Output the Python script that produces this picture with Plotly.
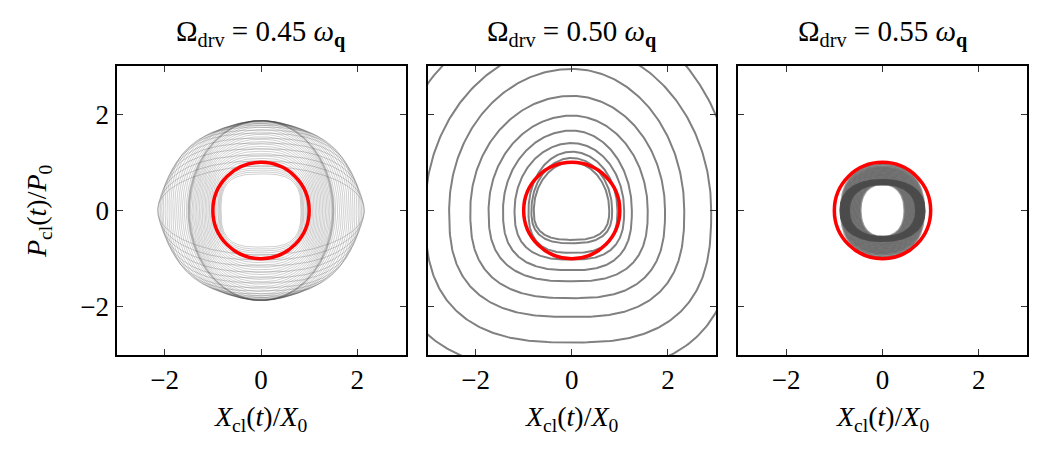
import numpy as np
import plotly.graph_objects as go

# ---------------- data ----------------
drive_ratios = ["0.45", "0.50", "0.55"]
tick_vals = [-2, 0, 2]
tick_text = ["\u22122", "0", "2"]

# panel 1: family of trajectory loops (semi-axes a, b and squareness p)
p1_a = [0.83, 0.85, 0.87, 0.89, 0.92, 0.95, 0.98, 1.01, 1.04, 1.07, 1.10, 1.13,
        1.16, 1.19, 1.22, 1.25, 1.28, 1.31, 1.34, 1.37, 1.40, 1.43, 1.46, 1.48,
        1.49, 1.50, 1.51, 1.52,
        1.55, 1.59, 1.63, 1.67, 1.71, 1.75, 1.79, 1.83, 1.87, 1.91, 1.95, 1.99,
        2.03, 2.06, 2.09, 2.12, 2.14, 2.15]
p1_b = [0.76, 0.80, 0.84, 0.88, 0.93, 0.98, 1.03, 1.08, 1.13, 1.18, 1.23, 1.28,
        1.33, 1.38, 1.43, 1.48, 1.53, 1.58, 1.63, 1.68, 1.73, 1.77, 1.81, 1.85,
        1.86, 1.87, 1.87, 1.87,
        1.87, 1.87, 1.86, 1.86, 1.85, 1.84, 1.82, 1.80, 1.77, 1.73, 1.67, 1.60,
        1.50, 1.40, 1.28, 1.15, 1.03, 0.92]
p1_p = [3.0, 2.95, 2.9, 2.85, 2.8, 2.75, 2.7, 2.65, 2.6, 2.55, 2.5, 2.45,
        2.4, 2.36, 2.32, 2.28, 2.24, 2.2, 2.16, 2.12, 2.08, 2.05, 2.02, 2.0,
        2.0, 2.0, 2.0, 2.02,
        2.05, 2.1, 2.15, 2.2, 2.25, 2.3, 2.4, 2.5, 2.6, 2.7, 2.7, 2.7,
        2.65, 2.6, 2.5, 2.4, 2.2, 2.0]

# panel 2: successive loops of the outward spiral (extent right, bottom, left, top)
p2_right = [0.78, 0.84, 0.95, 1.09, 1.25, 1.58, 1.94, 2.34, 2.90, 3.40]
p2_bottom = [0.61, 0.68, 0.88, 1.02, 1.24, 1.47, 1.82, 2.21, 2.74, 3.35]
p2_left = [0.79, 0.84, 0.90, 1.19, 1.43, 1.73, 2.11, 2.55, 3.05, 3.85]
p2_top = [1.00, 1.09, 1.22, 1.40, 1.66, 1.97, 2.38, 2.94, 3.45, 4.20]

# panel 3: light (tall) family and dark (wide) family
p3_light_a = [0.46, 0.48, 0.50, 0.52, 0.54, 0.56, 0.58, 0.60, 0.62, 0.64, 0.66,
              0.68, 0.70, 0.72, 0.74, 0.76, 0.78, 0.80, 0.82, 0.84, 0.86]
p3_light_b = [0.55, 0.57, 0.59, 0.61, 0.63, 0.65, 0.67, 0.69, 0.71, 0.73, 0.75,
              0.77, 0.79, 0.81, 0.83, 0.85, 0.87, 0.89, 0.91, 0.94, 0.97]
p3_dark_a = [0.70, 0.72, 0.74, 0.76, 0.78, 0.80, 0.82, 0.84, 0.86, 0.87]
p3_dark_b = [0.55, 0.56, 0.57, 0.58, 0.59, 0.60, 0.61, 0.62, 0.62, 0.63]

reference_radius = 1.0

# ---------------- drawing helpers ----------------
theta = np.linspace(0, 2 * np.pi, 361)
C, S = np.cos(theta), np.sin(theta)


def superellipse(a, b, p):
    e = 2.0 / p
    return a * np.sign(C) * np.abs(C) ** e, b * np.sign(S) * np.abs(S) ** e


def egg(r, bt, l, t, e_top=1.0, e_bot=0.74):
    e = np.where(S >= 0, e_top, e_bot)
    x = np.where(C >= 0, r, l) * np.sign(C) * np.abs(C) ** e
    y = np.where(S >= 0, t, bt) * np.sign(S) * np.abs(S) ** e
    return x, y


fig = go.Figure()
FONT = "Liberation Serif"


def add_line(x, y, ax, color, width):
    fig.add_trace(go.Scatter(x=x, y=y, mode="lines", xaxis="x" + ax, yaxis="y" + ax,
                             line=dict(color=color, width=width),
                             hoverinfo="skip", showlegend=False))


for a, b, p in zip(p1_a, p1_b, p1_p):
    add_line(*superellipse(a, b, p), "", "rgba(60,60,60,0.24)", 1.0)

for r, bt, l, t in zip(p2_right, p2_bottom, p2_left, p2_top):
    add_line(*egg(r, bt, l, t), "2", "#808080", 2)

for a, b in zip(p3_light_a, p3_light_b):
    add_line(*superellipse(a, b, 2.3), "3", "rgba(95,95,95,0.6)", 2.5)
for a, b in zip(p3_dark_a, p3_dark_b):
    add_line(*superellipse(a, b, 2.3), "3", "rgba(75,75,75,0.9)", 2.4)

W, H = 1050, 450
x_domains = [[116.5 / W, 405.5 / W], [427.5 / W, 716 / W], [738 / W, 1027 / W]]
y_domain = [1 - 355 / H, 1 - 66 / H]

axis_common = dict(range=[-3, 3], showgrid=False, zeroline=False, showline=True,
                   linecolor="black", linewidth=2, mirror="ticks", ticks="inside",
                   ticklen=6, tickwidth=1, tickcolor="#333", tickvals=tick_vals,
                   ticktext=tick_text, tickfont=dict(family=FONT, size=27, color="black"))

layout = dict(width=W, height=H, margin=dict(l=0, r=0, t=0, b=0),
              paper_bgcolor="white", plot_bgcolor="white", showlegend=False)
shapes, annotations = [], []
for i in range(3):
    sx = "" if i == 0 else str(i + 1)
    layout["xaxis" + sx] = dict(axis_common, domain=x_domains[i], anchor="y" + sx)
    layout["yaxis" + sx] = dict(axis_common, domain=y_domain, anchor="x" + sx,
                                showticklabels=(i == 0))
    shapes.append(dict(type="circle", xref="x" + sx, yref="y" + sx,
                       x0=-reference_radius, y0=-reference_radius,
                       x1=reference_radius, y1=reference_radius,
                       line=dict(color="#ff0000", width=3.5), layer="above"))
    xc = (x_domains[i][0] + x_domains[i][1]) / 2
    annotations.append(dict(
        text="\u03a9<sub>drv</sub> = " + drive_ratios[i] + " <i>\u03c9</i><sub><b>q</b></sub>",
        x=xc, y=1 - 33 / H, xref="paper", yref="paper", showarrow=False,
        xanchor="center", yanchor="middle", font=dict(family=FONT, size=29, color="black")))
    annotations.append(dict(
        text="<i>X</i><sub>cl</sub>(<i>t</i>)/<i>X</i><sub>0</sub>",
        x=xc, y=1 - 418 / H, xref="paper", yref="paper", showarrow=False,
        xanchor="center", yanchor="middle", font=dict(family=FONT, size=28, color="black")))

annotations.append(dict(
    text="<i>P</i><sub>cl</sub>(<i>t</i>)/<i>P</i><sub>0</sub>",
    x=38 / W, y=1 - 211 / H, xref="paper", yref="paper", showarrow=False,
    textangle=-90, xanchor="center", yanchor="middle",
    font=dict(family=FONT, size=28, color="black")))

layout["shapes"] = shapes
layout["annotations"] = annotations
fig.update_layout(**layout)
fig.write_html("out.html")
